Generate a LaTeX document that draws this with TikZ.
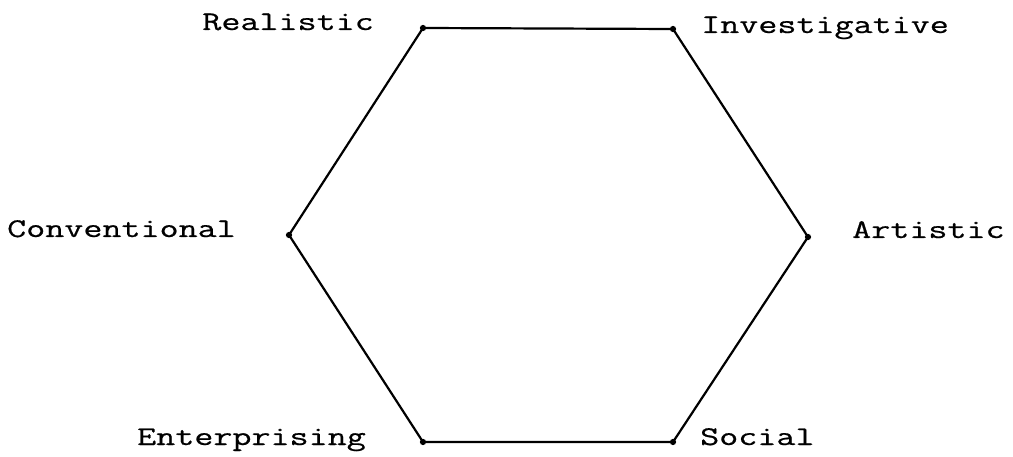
\documentclass[tikz,border=0pt]{standalone}
\usepackage{fontspec}
\newfontfamily\tipofont[FakeStretch=1.37,FakeBold=0.6]{Latin Modern Mono}
\usetikzlibrary{positioning}
\tikzset{
  lado/.style={draw=black,line width=2.2pt,line join=round},
  pt/.style={circle,fill=black,inner sep=2.2pt},
  etiq/.style={inner sep=0pt,font=\tipofont\fontsize{27}{32}\selectfont}
}
\begin{document}
\begin{tikzpicture}[x=1pt,y=-1pt]
\useasboundingbox (0,0) rectangle (1013,457);
\coordinate (R) at (423,28); \coordinate (I) at (673,29);
\coordinate (A) at (808,237); \coordinate (S) at (673,442);
\coordinate (E) at (423,442); \coordinate (C) at (289,235);
\draw[lado] (R)--(I)--(A)--(S)--(E)--(C)--cycle;
\node[pt] (pR) at (R){}; \node[pt] (pI) at (I){};
\node[pt] (pA) at (A){}; \node[pt] (pS) at (S){};
\node[pt] (pE) at (E){}; \node[pt] (pC) at (C){};
\node[etiq,anchor=base east] (lR) at (374,30) {Realistic};
\node[etiq,anchor=base west] (lI) at (701,33) {Investigative};
\node[etiq,anchor=base east] (lC) at (236,237) {Conventional};
\node[etiq,anchor=base west] (lA) at (852,238) {Artistic};
\node[etiq,anchor=base east] (lE) at (366,445) {Enterprising};
\node[etiq,anchor=base west] (lS) at (700,445) {Social};
\end{tikzpicture}
\end{document}
